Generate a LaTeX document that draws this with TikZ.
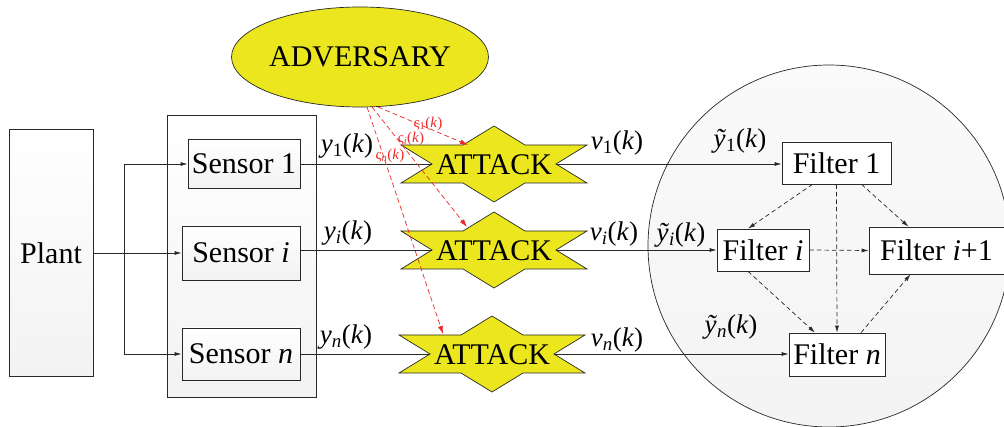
\documentclass[tikz,border=0pt]{standalone}
\usepackage{fontspec}
\setmainfont{Liberation Serif}
\newfontfamily\tnr{Liberation Serif}
\usetikzlibrary{arrows.meta,shapes.geometric}
\definecolor{advy}{RGB}{236,230,30}
\definecolor{redl}{RGB}{236,40,40}
\definecolor{linec}{RGB}{40,40,40}
\newcommand\lbl[2]{\textit{#1}\textsubscript{#2}(\textit{k})}
\newcommand\rlbl[1]{ς\textsubscript{#1}(\textit{k})}
\tikzset{
  box/.style={draw=linec, line width=0.7pt, top color=white, bottom color=gray!10, inner sep=0pt, font=\tnr\fontsize{30}{32}\selectfont},
  fbox/.style={box, top color=white, bottom color=white},
  lab/.style={inner sep=0pt, font=\tnr\fontsize{27}{29}\selectfont},
  rlab/.style={inner sep=0pt, text=redl, font=\tnr\fontsize{15}{16}\selectfont},
  conn/.style={draw=linec, line width=0.7pt},
  arr/.style={conn, -{Latex[length=7pt,width=4pt]}},
  darr/.style={arr, dash pattern=on 4.5pt off 3pt},
  rarr/.style={draw=redl, line width=0.7pt, dash pattern=on 5pt off 3pt, -{Latex[length=8pt,width=5pt]}},
  atk/.style={draw=linec, line width=0.7pt, fill=advy},
}
\newcommand\attackshape[3]{%
  \filldraw[atk] (#2-93,#3-19) -- (#2-31,#3-19) -- (#2,#3-38) -- (#2+31,#3-19) -- (#2+93,#3-19)
    -- (#2+62,#3) -- (#2+93,#3+19) -- (#2+31,#3+19) -- (#2,#3+38) -- (#2-31,#3+19)
    -- (#2-93,#3+19) -- (#2-62,#3) -- cycle;
  \node[inner sep=0pt, font=\tnr\fontsize{30}{32}\selectfont] (#1) at (#2,#3+1) {ATTACK};
  \coordinate (#1w) at (#2-62,#3);
  \coordinate (#1e) at (#2+62,#3);
}
\begin{document}
\begin{tikzpicture}[x=1pt,y=-1pt]
\useasboundingbox (0,0) rectangle (1004,427);
% filter cloud
\shade[top color=gray!4, bottom color=gray!9, draw=linec, line width=0.7pt] (829,246) circle (181);
% plant and sensors
\node[box, minimum width=84pt, minimum height=247pt] (plant) at (51,253) {Plant};
\node[box, minimum width=149pt, minimum height=282pt] (sbox) at (241.5,256) {};
\node[box, minimum width=112pt, minimum height=49pt] (s1) at (244,164) {Sensor 1};
\node[box, minimum width=118pt, minimum height=54pt] (si) at (241,253) {Sensor \textit{i}};
\node[box, minimum width=118pt, minimum height=52pt] (sn) at (241,354) {Sensor \textit{n}};
% adversary
\node[ellipse, draw=linec, line width=0.7pt, fill=advy, minimum width=206pt, minimum height=100pt, inner sep=0pt, font=\tnr\fontsize{30}{32}\selectfont] (adv) at (360,57) {ADVERSARY};
% attacks
\attackshape{a1}{494}{164}
\attackshape{a2}{494}{250}
\attackshape{a3}{492}{354}
% filters
\node[fbox, minimum width=109pt, minimum height=42pt] (f1) at (836.5,163) {Filter 1};
\node[fbox, minimum width=92pt, minimum height=42pt] (fi) at (763,250) {Filter \textit{i}};
\node[fbox, minimum width=135pt, minimum height=47pt] (fi1) at (936.5,250.5) {Filter \textit{i}+1};
\node[fbox, minimum width=96pt, minimum height=43pt] (fn) at (837,354.5) {Filter \textit{n}};
% plant to sensors
\coordinate (br) at (124,253);
\draw[arr] (plant.east) -- (si.west);
\draw[conn] (br |- s1.west) -- (br |- sn.west);
\draw[arr] (br |- s1.west) -- (s1.west);
\draw[arr] (br |- sn.west) -- (sn.west);
% sensors to attacks
\draw[conn] (s1.east |- a1w) -- (a1w);
\draw[conn] (si.east |- a2w) -- (a2w);
\draw[conn] (sn.east |- a3w) -- (a3w);
% attacks to filters
\draw[arr] (a1e) -- (a1e -| f1.west);
\draw[arr] (a2e) -- (a2e -| fi.west);
\draw[arr] (a3e) -- (a3e -| fn.west);
% labels
\node[lab] (ly1) at (347,146) {\lbl{y}{1}};
\node[lab] (lyi) at (348,233) {\lbl{y}{\textit{i}}};
\node[lab] (lyn) at (346,337) {\lbl{y}{\textit{n}}};
\node[lab] (lv1) at (617,143) {\lbl{v}{1}};
\node[lab] (lvi) at (614,234) {\lbl{v}{\textit{i}}};
\node[lab] (lvn) at (617,340) {\lbl{v}{\textit{n}}};
\node[lab] (lt1) at (740,141) {\lbl{ỹ}{1}};
\node[lab] (lti) at (681,235) {\lbl{ỹ}{\textit{i}}};
\node[lab] (ltn) at (731,327) {\lbl{ỹ}{\textit{n}}};
% red attack signals
\coordinate (r1s) at (378,107);
\coordinate (r2s) at (372,107);
\coordinate (r3s) at (367,107);
\coordinate (t1) at (468,145);
\coordinate (t2) at (467,227);
\coordinate (t3) at (443,334);
\draw[rarr] (r1s) -- (t1);
\draw[rarr] (r2s) -- (t2);
\draw[rarr] (r3s) -- (t3);
\node[rlab] (z1) at (428,124) {\rlbl{1}};
\node[rlab] (zi) at (411,139) {\rlbl{\textit{i}}};
\node[rlab] (zn) at (390,156) {\rlbl{\textit{n}}};
% filter network
\draw[darr] ([xshift=-24pt]f1.south) -- ([xshift=-15pt]fi.north);
\draw[darr] (f1.south) -- (fn.north);
\draw[darr] ([xshift=25pt]f1.south) -- ([xshift=-28pt]fi1.north);
\draw[darr] (fi.east) -- (fi1.west);
\draw[darr] ([xshift=-15pt]fi.south) -- ([xshift=-22pt]fn.north);
\draw[darr] ([xshift=24pt]fn.north) -- ([xshift=-26pt]fi1.south);
\end{tikzpicture}
\end{document}
